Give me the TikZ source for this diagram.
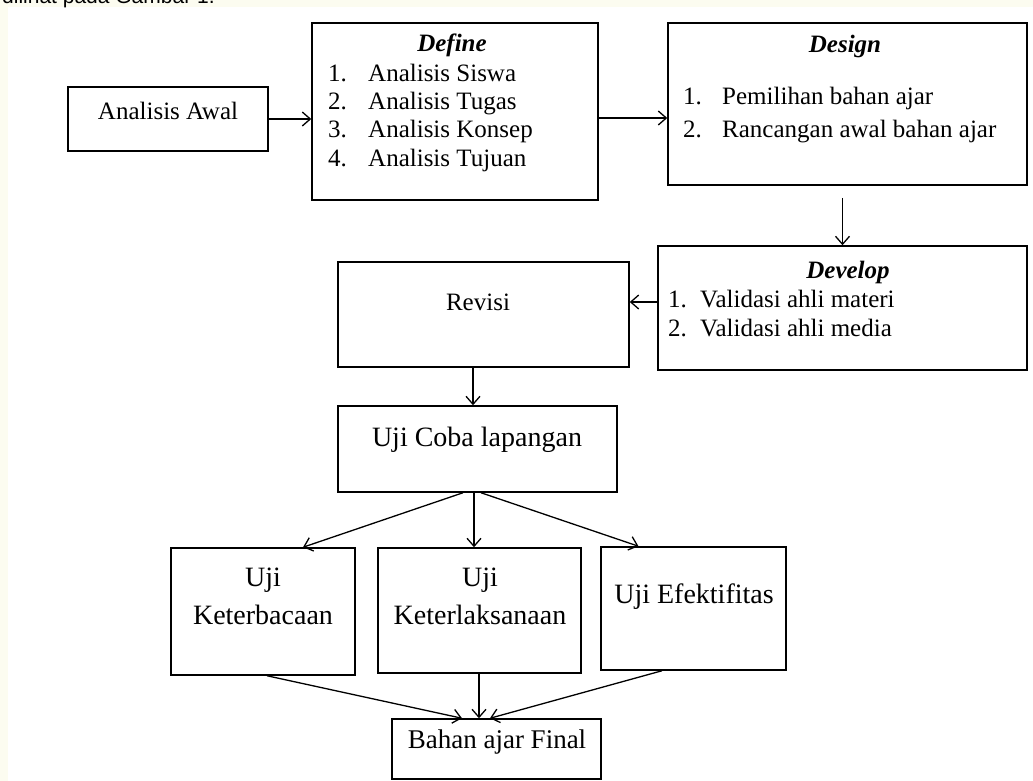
\documentclass[tikz,border=0pt]{standalone}
\usepackage{fontspec}
\setmainfont{Liberation Serif}
\newfontfamily\capsans{Liberation Sans}
\usetikzlibrary{arrows.meta,positioning}
\definecolor{pagecream}{RGB}{252,252,240}

\begin{document}
\begin{tikzpicture}[x=1pt,y=-1pt,
  every node/.style={font=\fontsize{25}{29}\selectfont},
  box/.style={draw=black,line width=1.5pt,inner sep=0pt},
  txt/.style={inner sep=0pt,anchor=base},
  big/.style={txt,font=\fontsize{28}{32}\selectfont},
  lst/.style={inner sep=0pt,anchor=base west},
  ar/.style={-{Straight Barb[length=8pt,width=14pt]},line width=1.3pt}]
\useasboundingbox (0,0) rectangle (1033,781);
\fill[pagecream] (0,0) rectangle (1033,781);
\fill[white] (8,7) rectangle (1033,781);
\node[lst,font=\capsans\fontsize{21}{25}\selectfont] (caption) at (2,4) {dilihat pada Gambar 1.};
% boxes
\node[box,minimum width=200pt,minimum height=64pt] (awal) at (168,119) {};
\node[box,minimum width=286pt,minimum height=177pt] (define) at (455,111.5) {};
\node[box,minimum width=359pt,minimum height=162pt] (design) at (847.5,104) {};
\node[box,minimum width=369pt,minimum height=124pt] (develop) at (842.5,308) {};
\node[box,minimum width=291pt,minimum height=105pt] (revisi) at (483.5,314.5) {};
\node[box,minimum width=279pt,minimum height=86pt] (ujicoba) at (477.5,449) {};
\node[box,minimum width=184pt,minimum height=127pt] (baca) at (263,611.5) {};
\node[box,minimum width=203pt,minimum height=125pt] (laksana) at (479.5,610.5) {};
\node[box,minimum width=185pt,minimum height=123pt] (efek) at (693.5,608.5) {};
\node[box,minimum width=209pt,minimum height=60pt] (final) at (496.5,749) {};
% texts
\node[txt] (awal-t) at (168,120) {Analisis Awal};
\node[txt] (define-t) at (452,52) {\bfseries\itshape Define};
\foreach \t [count=\k] in {Analisis Siswa,Analisis Tugas,Analisis Konsep,Analisis Tujuan} {
  \node[lst] (define-n\k) at (328,54+28*\k) {\k.};
  \node[lst] (define-i\k) at (368,54+28*\k) {\t};
}
\node[txt] (design-t) at (845,53) {\bfseries\itshape Design};
\foreach \t [count=\k] in {Pemilihan bahan ajar,Rancangan awal bahan ajar} {
  \node[lst] (design-n\k) at (683,72+33*\k) {\k.};
  \node[lst] (design-i\k) at (722,72+33*\k) {\t};
}
\node[txt] (develop-t) at (848,278) {\bfseries\itshape Develop};
\foreach \t [count=\k] in {Validasi ahli materi,Validasi ahli media} {
  \node[lst] (develop-n\k) at (668,278+29*\k) {\k.};
  \node[lst] (develop-i\k) at (700,278+29*\k) {\t};
}
\node[txt] (revisi-t) at (478,310) {Revisi};
\node[big] (ujicoba-t) at (477,446) {Uji Coba lapangan};
\node[big] (baca-t1) at (263,586) {Uji};
\node[big] (baca-t2) at (263,624) {Keterbacaan};
\node[big] (laksana-t1) at (480,586) {Uji};
\node[big] (laksana-t2) at (480,624) {Keterlaksanaan};
\node[big] (efek-t) at (694,603) {Uji Efektifitas};
\node[txt,font=\fontsize{27}{31}\selectfont] (final-t) at (497,748) {Bahan ajar Final};
% connectors
\draw[ar] (awal.east) -- (awal.east -| define.west);
\coordinate (dfo) at ([yshift=-6.5pt]define.east);
\draw[ar] (dfo) -- (dfo -| design.west);
\path (develop.north |- design.south) ++(0,12) coordinate (dgo);
\draw[ar] (dgo) -- (develop.north);
\coordinate (dvo) at ([yshift=6pt]develop.west);
\draw[ar] (dvo) -- (dvo -| revisi.east);
\coordinate (rvo) at ([xshift=-10.5pt]revisi.south);
\draw[ar] (rvo) -- (rvo |- ujicoba.north);
\draw[ar] ([xshift=-14.5pt]ujicoba.south) -- ([xshift=40pt]baca.north);
\coordinate (uco) at ([xshift=-3.5pt]ujicoba.south);
\draw[ar] (uco) -- (uco |- laksana.north);
\draw[ar] ([xshift=3.5pt]ujicoba.south) -- ([xshift=-55pt]efek.north);
\draw[ar] ([xshift=4pt]baca.south) -- ([xshift=-34.5pt]final.north);
\coordinate (lko) at ([xshift=-0.5pt]laksana.south);
\draw[ar] (lko) -- (lko |- final.north);
\draw[ar] ([xshift=-31.5pt]efek.south) -- ([xshift=-6.5pt]final.north);
\end{tikzpicture}
\end{document}
